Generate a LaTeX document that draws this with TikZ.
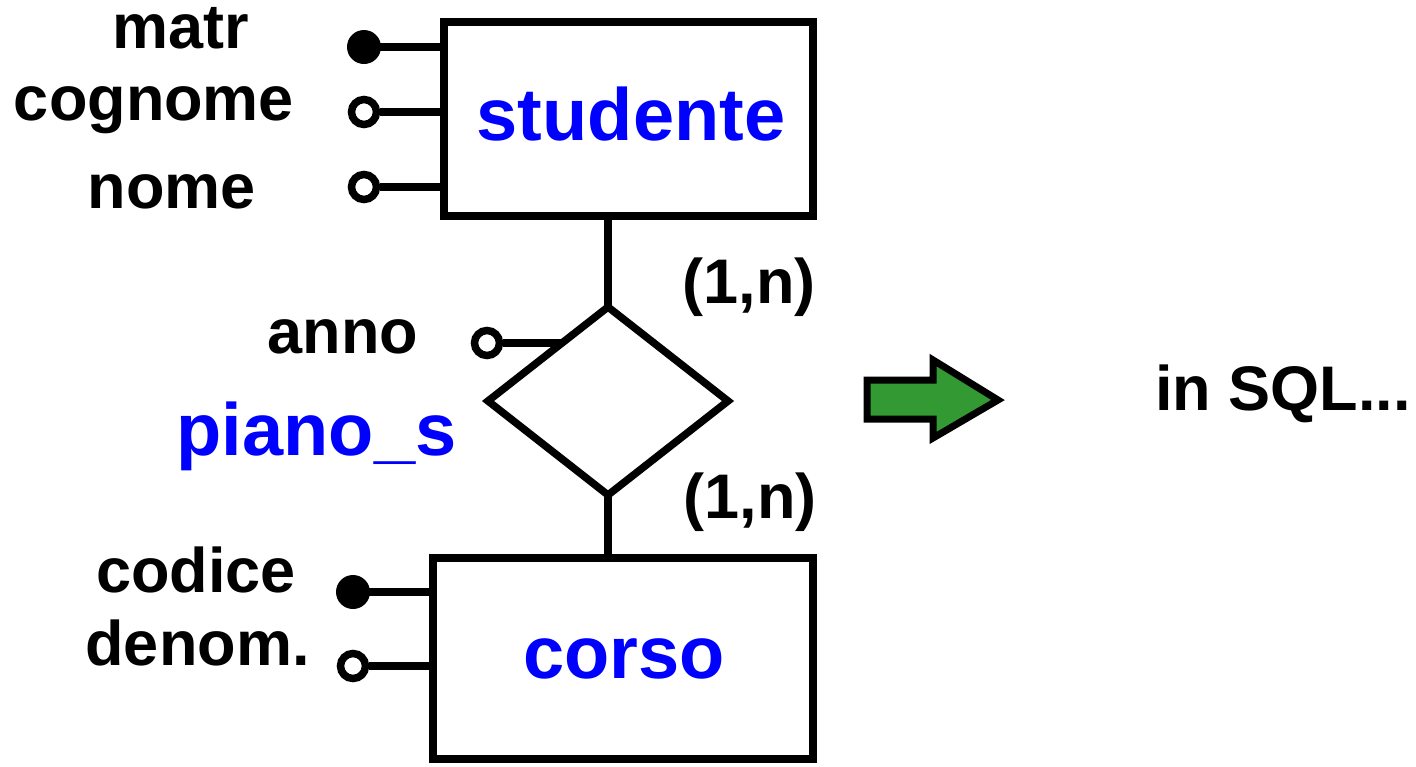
\documentclass[tikz,border=0pt]{standalone}
\usepackage{fontspec}
\setmainfont{Liberation Sans}
\usetikzlibrary{shapes.geometric}
\definecolor{erblue}{RGB}{0,0,255}
\definecolor{argreen}{RGB}{51,153,51}
\tikzset{
  entity/.style={draw, line width=7.5pt, rectangle, inner sep=0pt, outer sep=0pt},
  relship/.style={draw, line width=7.5pt, diamond, inner sep=0pt, outer sep=0pt},
  ename/.style={inner sep=0pt, anchor=base, text=erblue, font=\fontsize{74}{80}\selectfont\bfseries},
  alabel/.style={inner sep=0pt, anchor=base, font=\fontsize{63}{68}\selectfont\bfseries},
  keyattr/.style={circle, fill=black, inner sep=0pt, minimum size=34pt},
  plainattr/.style={circle, draw, fill=white, line width=7.5pt, inner sep=0pt, minimum size=25pt},
  conn/.style={line width=7.5pt},
}
\begin{document}
\begin{tikzpicture}[x=1pt,y=-1pt]
\useasboundingbox (0,0) rectangle (1416,766);

% entities and relationship
\node[entity, minimum width=369pt, minimum height=194pt] (stud) at (628.5,119) {};
\node[ename] (studt) at (631,140) {studente};
\node[entity, minimum width=380pt, minimum height=201pt] (corso) at (623,658.5) {};
\node[ename] (corsot) at (624,678) {corso};
\node[relship, minimum width=240pt, minimum height=188pt, aspect=1.2766] (rel) at (608,401) {};
\node[ename] (relt) at (316.5,455) {piano\_s};

% links
\draw[conn] (rel.north |- stud.south) -- (rel.north);
\draw[conn] (rel.south) -- (rel.south |- corso.north);
\node[alabel] (card1) at (749,303) {(1,n)};
\node[alabel] (card2) at (750,518) {(1,n)};

% studente attributes
\node[keyattr] (matrc) at (364,47) {};
\node[plainattr] (cognc) at (364,112) {};
\node[plainattr] (nomec) at (364,187) {};
\draw[conn] (matrc.center) -- (stud.west |- matrc.center);
\draw[conn] (cognc.east) -- (stud.west |- cognc.center);
\draw[conn] (nomec.east) -- (stud.west |- nomec.center);
\node[alabel] (matrt) at (180.5,48) {matr};
\node[alabel] (cognt) at (154,120) {cognome};
\node[alabel] (nomet) at (172,208) {nome};

% relationship attribute
\path (rel.west) -- coordinate[pos=0.617] (annoend) (rel.north);
\node[plainattr] (annoc) at (487,343) {};
\draw[conn] (annoc.east) -- (annoend |- annoc.center);
\node[alabel] (annot) at (343,353) {anno};

% corso attributes
\node[keyattr] (codc) at (353,592) {};
\node[plainattr] (denc) at (353,666) {};
\draw[conn] (codc.center) -- (corso.west |- codc.center);
\draw[conn] (denc.east) -- (corso.west |- denc.center);
\node[alabel] (codt) at (196,592) {codice};
\node[alabel] (dent) at (197.5,665) {denom.};

% arrow
\draw[line width=7pt, fill=argreen, line join=miter, miter limit=10]
  (867,380) -- (933,380) -- (933,360) -- (998,400) -- (933,438) -- (933,419) -- (867,419) -- cycle;
\node[alabel] (sqlt) at (1283,410) {in SQL...};
\end{tikzpicture}
\end{document}
